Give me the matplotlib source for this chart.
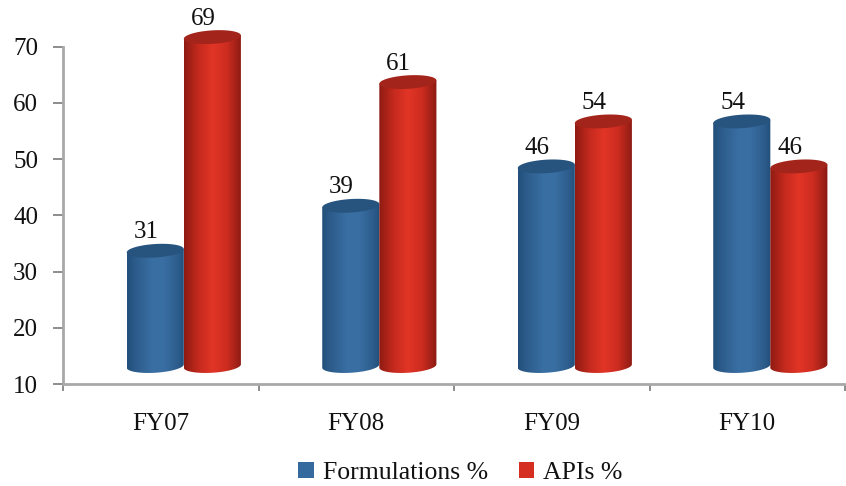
import numpy as np
import matplotlib
matplotlib.use("Agg")
import matplotlib.pyplot as plt
from matplotlib.colors import LinearSegmentedColormap
from matplotlib.patches import Polygon, Patch

categories = ["FY07", "FY08", "FY09", "FY10"]
formulations = [31, 39, 46, 54]
apis = [69, 61, 54, 46]
y_ticks = [10, 20, 30, 40, 50, 60, 70]

plt.rcParams["font.family"] = ["Liberation Serif", "DejaVu Serif"]

W, H = 846, 486
fig = plt.figure(figsize=(W / 100, H / 100), dpi=100)
ax = fig.add_axes([63 / W, (H - 384) / H, (845 - 63) / W, 384 / H])
ax.set_xlim(-0.5, 3.5)
ax.set_ylim(10, 78.3)

BAR_W = 0.292
X_SHIFT = 0.118        # pseudo-3D shift of the cylinders
Y_SHIFT = 2.7          # pseudo-3D lift of the cylinders above the axis
BASE = 13.2
ELL_H = 1.2            # vertical semi-axis of the end caps
TILT = 0.3             # slope of the top cap across its half width

blue_cmap = LinearSegmentedColormap.from_list(
    "blue", [(0, "#224f7b"), (0.12, "#2b5a88"), (0.45, "#3a6fa4"), (0.65, "#396ea2"), (0.9, "#2b5b8a"), (1, "#214e7a")])
red_cmap = LinearSegmentedColormap.from_list(
    "red", [(0, "#8e1b12"), (0.25, "#c52a1e"), (0.5, "#e23526"), (0.75, "#cc2c20"), (1, "#8a1a12")])


def cylinder(cx, value, cmap, top_color):
    left, right = cx - BAR_W / 2, cx + BAR_W / 2
    top = value + Y_SHIFT
    t = np.linspace(0, np.pi, 60)
    # lower outline of the top cap and of the base, left to right
    low_x = cx - BAR_W / 2 * np.cos(t)
    slope = TILT * (low_x - cx) / (BAR_W / 2)
    low_top = top - ELL_H * np.sin(t) + slope
    low_base = BASE - ELL_H * np.sin(t) + slope
    body = np.vstack([np.column_stack([low_x, low_base]),
                      np.column_stack([low_x[::-1], top + slope[::-1]])])
    clip = Polygon(body, closed=True, transform=ax.transData, fc="none", ec="none")
    ax.add_patch(clip)
    shade = np.linspace(0, 1, 128)[None, :]
    im = ax.imshow(shade, cmap=cmap, extent=(left, right, BASE - ELL_H - TILT, top + ELL_H + TILT),
                   aspect="auto", zorder=3, interpolation="bilinear")
    im.set_clip_path(clip)
    up_top = top + ELL_H * np.sin(t[::-1]) + slope[::-1]
    cap = np.vstack([np.column_stack([low_x, low_top]), np.column_stack([low_x[::-1], up_top])])
    ax.add_patch(Polygon(cap, closed=True, fc=top_color, ec="none", zorder=3.2))


for i, (f, a) in enumerate(zip(formulations, apis)):
    blue_x = i - 0.5 * BAR_W + X_SHIFT
    red_x = blue_x + BAR_W
    cylinder(blue_x, f, blue_cmap, "#27547f")
    cylinder(red_x, a, red_cmap, "#a3241a")
    ax.text(blue_x - 0.047, f + 4.0, str(f), ha="center", va="bottom", fontsize=18, color="#111111", zorder=5)
    ax.text(red_x - 0.047, a + 4.0, str(a), ha="center", va="bottom", fontsize=18, color="#111111", zorder=5)

ax.set_xlim(-0.5, 3.5)
ax.set_ylim(10, 78.3)

for name in ("top", "right"):
    ax.spines[name].set_visible(False)
for name in ("left", "bottom"):
    ax.spines[name].set_color("#a8a8a8")
    ax.spines[name].set_linewidth(2.0)
ax.spines["left"].set_bounds(10, 70)

ax.set_yticks(y_ticks)
ax.set_xticks(np.arange(-0.5, 4, 1))
ax.set_xticklabels([])
ax.set_xticks(np.arange(len(categories)), labels=categories, minor=True)
ax.tick_params(axis="x", which="major", direction="out", length=5, width=1.4, color="#8c8c8c")
ax.tick_params(axis="x", which="minor", length=0, pad=21, labelsize=18, labelcolor="#111111")
ax.tick_params(axis="y", direction="out", length=7, width=1.4, color="#8c8c8c", pad=11,
               labelsize=18, labelcolor="#111111")

handles = [Patch(fc="#356a9f", label="Formulations %"), Patch(fc="#d42f20", label="APIs %")]
fig.legend(handles=handles, loc="center", bbox_to_anchor=(460.5 / W, (H - 473) / H), ncol=2, frameon=False,
           fontsize=18.5, handlelength=0.6, handleheight=0.6, handletextpad=0.35, columnspacing=1.2,
           labelcolor="#111111")

fig.savefig("out.png", dpi=100)
